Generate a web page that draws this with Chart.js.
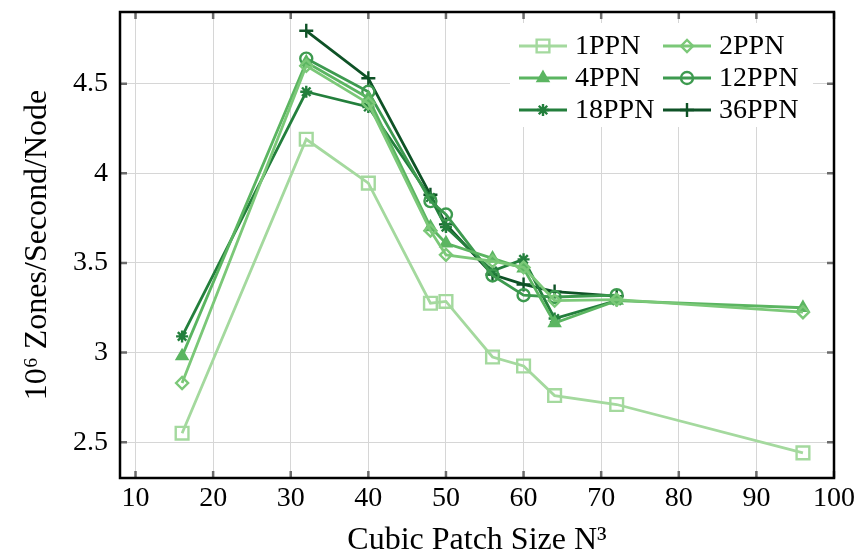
<!DOCTYPE html>
<html>
<head>
<meta charset="utf-8">
<script src="https://cdn.jsdelivr.net/npm/chart.js@4"></script>
<style>
  html, body { margin: 0; padding: 0; background: #fff; }
  canvas { display: block; }
</style>
</head>
<body>
<canvas id="myChart" width="862" height="560"></canvas>
<script>
// patch sizes (N) per series
const sizesFull = [16, 32, 40, 48, 50, 56, 60, 64, 72, 96];
const sizes18 = [16, 32, 40, 48, 50, 56, 60, 64, 72];
const sizesShort = [32, 40, 48, 50, 56, 60, 64, 72];

// 10^6 zones / second / node
const ppn1 = [2.55, 4.19, 3.945, 3.275, 3.285, 2.975, 2.925, 2.76, 2.71, 2.44];
const ppn2 = [2.83, 4.60, 4.39, 3.68, 3.545, 3.51, 3.475, 3.29, 3.295, 3.225];
const ppn4 = [2.98, 4.62, 4.42, 3.70, 3.61, 3.525, 3.47, 3.165, 3.29, 3.25];
const ppn12 = [4.64, 4.455, 3.845, 3.77, 3.43, 3.32, 3.31, 3.32];
const ppn18 = [3.09, 4.455, 4.37, 3.865, 3.70, 3.455, 3.52, 3.19, 3.29];
const ppn36 = [4.795, 4.53, 3.88, 3.715, 3.435, 3.38, 3.34, 3.315];

const xTitle = 'Cubic Patch Size N³';
const yTitle = '10⁶ Zones/Second/Node';

const serif = '"Liberation Serif", "Times New Roman", serif';

function pts(xs, ys) {
    return xs.map((x, i) => ({ x: x, y: ys[i] }));
}

function series(label, xs, ys, color, style, radius, filled) {
    return {
        label: label,
        data: pts(xs, ys),
        borderColor: color,
        backgroundColor: color,
        borderWidth: 2.8,
        pointStyle: style,
        pointRadius: radius,
        pointHoverRadius: radius,
        pointBorderWidth: 2.4,
        pointBorderColor: color,
        pointBackgroundColor: filled ? color : 'rgba(0,0,0,0)',
        tension: 0,
        fill: false
    };
}

const datasets = [
    series('1PPN', sizesFull, ppn1, '#a4d99e', 'rect', 9, false),
    series('2PPN', sizesFull, ppn2, '#7bc878', 'rectRot', 6, false),
    series('4PPN', sizesFull, ppn4, '#5bb561', 'triangle', 6, true),
    series('12PPN', sizesShort, ppn12, '#3d9a4f', 'circle', 6, false),
    series('18PPN', sizes18, ppn18, '#237f3c', 'star', 6, false),
    series('36PPN', sizesShort, ppn36, '#0e5226', 'cross', 7, false)
];

// frame, inward tick marks and the legend inside the plot
const decor = {
    id: 'decor',
    afterDatasetsDraw(chart) {
        const ctx = chart.ctx;
        const a = chart.chartArea;
        const xs = chart.scales.x, ys = chart.scales.y;
        ctx.save();
        ctx.strokeStyle = '#6b6b6b';
        ctx.lineWidth = 2.5;
        xs.ticks.forEach(t => {
            const p = xs.getPixelForValue(t.value);
            ctx.beginPath();
            ctx.moveTo(p, a.bottom); ctx.lineTo(p, a.bottom - 7);
            ctx.moveTo(p, a.top); ctx.lineTo(p, a.top + 7);
            ctx.stroke();
        });
        ys.ticks.forEach(t => {
            const p = ys.getPixelForValue(t.value);
            ctx.beginPath();
            ctx.moveTo(a.left, p); ctx.lineTo(a.left + 7, p);
            ctx.moveTo(a.right, p); ctx.lineTo(a.right - 7, p);
            ctx.stroke();
        });

        // legend
        ctx.fillStyle = '#fff';
        ctx.fillRect(510, 23, 303, 104);
        const cols = [519, 663];
        const rows = [46, 78, 110];
        ctx.font = '28px ' + serif;
        ctx.textBaseline = 'middle';
        ctx.textAlign = 'left';
        chart.data.datasets.forEach((ds, i) => {
            const cx = cols[i % 2], cy = rows[Math.floor(i / 2)];
            ctx.strokeStyle = ds.borderColor;
            ctx.lineWidth = ds.borderWidth;
            ctx.beginPath();
            ctx.moveTo(cx, cy); ctx.lineTo(cx + 48, cy);
            ctx.stroke();
            ctx.fillStyle = ds.pointBackgroundColor;
            ctx.strokeStyle = ds.pointBorderColor;
            ctx.lineWidth = ds.pointBorderWidth;
            Chart.helpers.drawPoint(ctx, {
                pointStyle: ds.pointStyle,
                radius: ds.pointRadius,
                rotation: 0,
                borderWidth: ds.pointBorderWidth
            }, cx + 24, cy);
            ctx.fillStyle = '#000';
            ctx.fillText(ds.label, cx + 56, cy + 1);
        });

        ctx.strokeStyle = '#000';
        ctx.lineWidth = 2.5;
        ctx.strokeRect(a.left, a.top, a.right - a.left, a.bottom - a.top);
        ctx.restore();
    }
};

const ctx = document.getElementById('myChart').getContext('2d');
new Chart(ctx, {
    type: 'line',
    data: { datasets: datasets },
    plugins: [decor],
    options: {
        responsive: false,
        animation: false,
        devicePixelRatio: 1,
        layout: { padding: { left: 0, top: 12, right: 28, bottom: 0 } },
        plugins: {
            legend: { display: false },
            tooltip: { enabled: false }
        },
        scales: {
            x: {
                type: 'linear',
                min: 8,
                max: 100,
                afterFit: s => { s.height = 82; s.paddingLeft = 0; s.paddingRight = 0; },
                ticks: {
                    stepSize: 10,
                    includeBounds: false,
                    color: '#000',
                    padding: 4,
                    font: { family: serif, size: 28 }
                },
                grid: { color: '#d6d6d6', lineWidth: 1, drawTicks: false },
                border: { display: false },
                title: {
                    display: true,
                    text: xTitle,
                    color: '#000',
                    font: { family: serif, size: 32 },
                    padding: { top: 0, bottom: 0 }
                }
            },
            y: {
                type: 'linear',
                min: 2.3,
                max: 4.9,
                afterFit: s => { s.width = 120; s.paddingTop = 0; s.paddingBottom = 0; },
                ticks: {
                    stepSize: 0.5,
                    includeBounds: false,
                    color: '#000',
                    padding: 12,
                    font: { family: serif, size: 28 },
                    callback: v => String(v)
                },
                grid: { color: '#d6d6d6', lineWidth: 1, drawTicks: false },
                border: { display: false },
                title: {
                    display: true,
                    text: yTitle,
                    color: '#000',
                    font: { family: serif, size: 32 },
                    padding: { top: 18, bottom: 0 }
                }
            }
        }
    }
});
</script>
</body>
</html>
